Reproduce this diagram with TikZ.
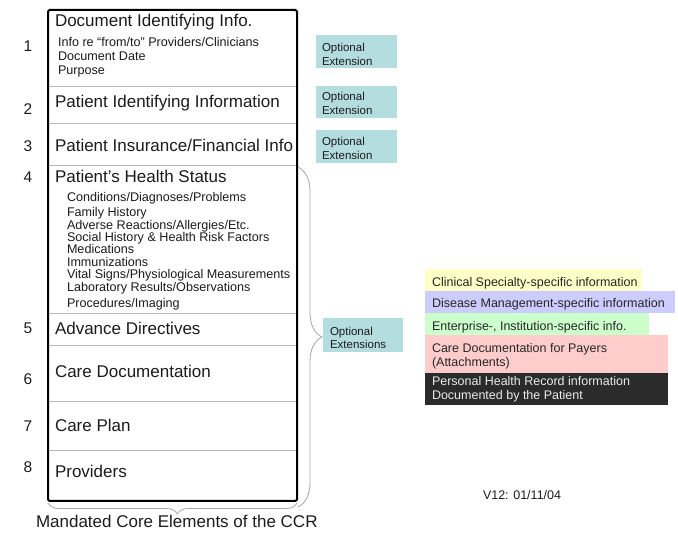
\documentclass[tikz,border=0pt]{standalone}
\usepackage{fontspec}
\setmainfont{Liberation Sans}
\usetikzlibrary{decorations.pathreplacing}
\definecolor{txt}{HTML}{1C1C1C}
\definecolor{optc}{HTML}{B4DDE0}
\definecolor{ylw}{HTML}{FFFFC8}
\definecolor{lav}{HTML}{CCCCFF}
\definecolor{grn}{HTML}{CCFFCC}
\definecolor{pnk}{HTML}{FFCCCC}
\definecolor{blk}{HTML}{2B2B2B}
\begin{document}
\begin{tikzpicture}[x=1pt,y=-1pt,
  every node/.style={inner sep=0pt,outer sep=0pt,text=txt},
  ttl/.style={anchor=base west,font=\fontsize{17}{20}\selectfont},
  sub/.style={anchor=base west,font=\fontsize{12.6}{14}\selectfont},
  num/.style={anchor=base,font=\fontsize{15.5}{18}\selectfont},
  opt/.style={anchor=base west,font=\fontsize{11.5}{13}\selectfont},
  leg/.style={anchor=base west,font=\fontsize{12.5}{14}\selectfont,text=black!85},
  divider/.style={draw=gray!55,line width=0.9pt},
  bracestyle/.style={draw=gray!70,line width=0.8pt,decorate,decoration={brace,amplitude=#1}}
]
\useasboundingbox (0,0) rectangle (678,534);
\fill[white] (0,0) rectangle (678,534);

% row dividers
\foreach \yy in {86,123,165,313,345,401,450}
  \draw[divider] (48,\yy) -- (297,\yy);
% outer box
\draw[line width=2pt,rounded corners=1.5pt] (48,10) rectangle (297,501);

% numbers
\node[num] (n1) at (28,52) {1};
\node[num] (n2) at (28,115) {2};
\node[num] (n3) at (28,152) {3};
\node[num] (n4) at (28,183) {4};
\node[num] (n5) at (28,334) {5};
\node[num] (n6) at (28,385) {6};
\node[num] (n7) at (28,432) {7};
\node[num] (n8) at (28,473) {8};

% titles
\node[ttl] (t1) at (55,27) {Document Identifying Info.};
\node[ttl] (t2) at (55,108) {Patient Identifying Information};
\node[ttl] (t3) at (55,152) {Patient Insurance/Financial Info};
\node[ttl] (t4) at (55,183) {Patient’s Health Status};
\node[ttl] (t5) at (55,335) {Advance Directives};
\node[ttl] (t6) at (55,378) {Care Documentation};
\node[ttl] (t7) at (55,432) {Care Plan};
\node[ttl] (t8) at (55,478) {Providers};

% sub items section 1
\node[sub] (s1a) at (58,47) {Info re “from/to” Providers/Clinicians};
\node[sub] (s1b) at (58,61) {Document Date};
\node[sub] (s1c) at (58,75) {Purpose};

% sub items section 4
\node[sub] (s4a) at (67,202) {Conditions/Diagnoses/Problems};
\node[sub] (s4b) at (67,217) {Family History};
\node[sub] (s4c) at (67,230) {Adverse Reactions/Allergies/Etc.};
\node[sub] (s4d) at (67,242) {Social History \& Health Risk Factors};
\node[sub] (s4e) at (67,254) {Medications};
\node[sub] (s4f) at (67,267) {Immunizations};
\node[sub] (s4g) at (67,279) {Vital Signs/Physiological Measurements};
\node[sub] (s4h) at (67,292) {Laboratory Results/Observations};
\node[sub] (s4i) at (67,308) {Procedures/Imaging};

% bottom caption
\node[ttl] (cap) at (36,528) {Mandated Core Elements of the CCR};

% braces
\draw[bracestyle=11,decoration={aspect=0.48}] (297,503) -- (48,503);
\draw[bracestyle=24] (298,167) -- (298,507);

% optional extension boxes
\fill[optc] (316,35) rectangle (397,68);
\node[opt] (o1a) at (322,52) {Optional};
\node[opt] (o1b) at (322,66) {Extension};
\fill[optc] (316,86) rectangle (397,118);
\node[opt] (o2a) at (322,101) {Optional};
\node[opt] (o2b) at (322,115) {Extension};
\fill[optc] (316,130) rectangle (397,163);
\node[opt] (o3a) at (322,146) {Optional};
\node[opt] (o3b) at (322,160) {Extension};
\fill[optc] (323,318) rectangle (403,352);
\node[opt] (o4a) at (330,336) {Optional};
\node[opt] (o4b) at (330,349) {Extensions};

% legend boxes
\fill[ylw] (425,269) rectangle (642,291);
\fill[lav] (425,291) rectangle (675,313);
\fill[grn] (425,313) rectangle (649,335);
\fill[pnk] (425,335) rectangle (668,373);
\fill[blk] (425,373) rectangle (668,405);
\node[leg] (l1) at (432,287) {Clinical Specialty-specific information};
\node[leg] (l2) at (432,308) {Disease Management-specific information};
\node[leg] (l3) at (432,331) {Enterprise-, Institution-specific info.};
\node[leg] (l4a) at (432,353) {Care Documentation for Payers};
\node[leg] (l4b) at (432,367) {(Attachments)};
\node[leg,text=white!92!black] (l5a) at (432,386) {Personal Health Record information};
\node[leg,text=white!92!black] (l5b) at (432,400) {Documented by the Patient};

% version
\node[anchor=base west,font=\fontsize{12.5}{14}\selectfont] (ver) at (483,500) {V12: 01/11/04};
\end{tikzpicture}
\end{document}
